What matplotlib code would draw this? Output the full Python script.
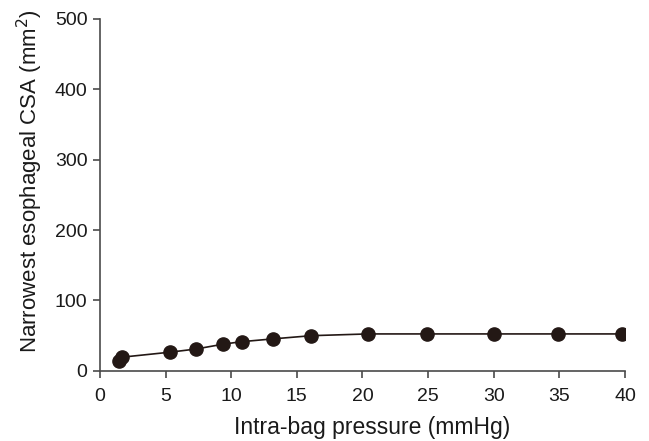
import matplotlib.pyplot as plt

# Data
pressure = [1.45, 1.7, 5.3, 7.3, 9.4, 10.8, 13.2, 16.1, 20.4, 24.9, 30.0, 34.9, 39.8]
csa = [14, 19.5, 26.5, 31, 38, 41.5, 45.5, 50, 52.5, 52.5, 52.5, 52.5, 52.5]

xticks = [0, 5, 10, 15, 20, 25, 30, 35, 40]
yticks = [0, 100, 200, 300, 400, 500]

plt.rcParams['font.family'] = ['Liberation Sans', 'DejaVu Sans']
ink = '#231815'

fig = plt.figure(figsize=(6.49, 4.41), dpi=100)
ax = fig.add_axes([0.154, 0.159, 0.809, 0.798])

ax.plot(pressure, csa, color=ink, linewidth=1.2, marker='o', markersize=9.5,
        markerfacecolor=ink, markeredgecolor=ink, zorder=3)

ax.set_xlim(0, 40)
ax.set_ylim(0, 500)
ax.set_xticks(xticks)
ax.set_yticks(yticks)
ax.spines['top'].set_visible(False)
ax.spines['right'].set_visible(False)
for s in ['left', 'bottom']:
    ax.spines[s].set_color('#4a4a4a')
    ax.spines[s].set_linewidth(1.2)
ax.tick_params(direction='out', length=5, width=1.2, color='#4a4a4a',
               labelsize=14, labelcolor='#1a1a1a')
ax.tick_params(axis='x', pad=7)
ax.tick_params(axis='y', pad=4)

ax.set_xlabel('Intra-bag pressure (mmHg)', fontsize=16.5, color='#1a1a1a', labelpad=8)
ax.set_ylabel('Narrowest esophageal CSA (mm$^2$)', fontsize=16, color='#1a1a1a', labelpad=7)
# labels in the reference sit slightly off-centre
ax.xaxis.label.set_x(0.518)
ax.yaxis.label.set_y(0.54)

fig.savefig('out.png', dpi=100)
